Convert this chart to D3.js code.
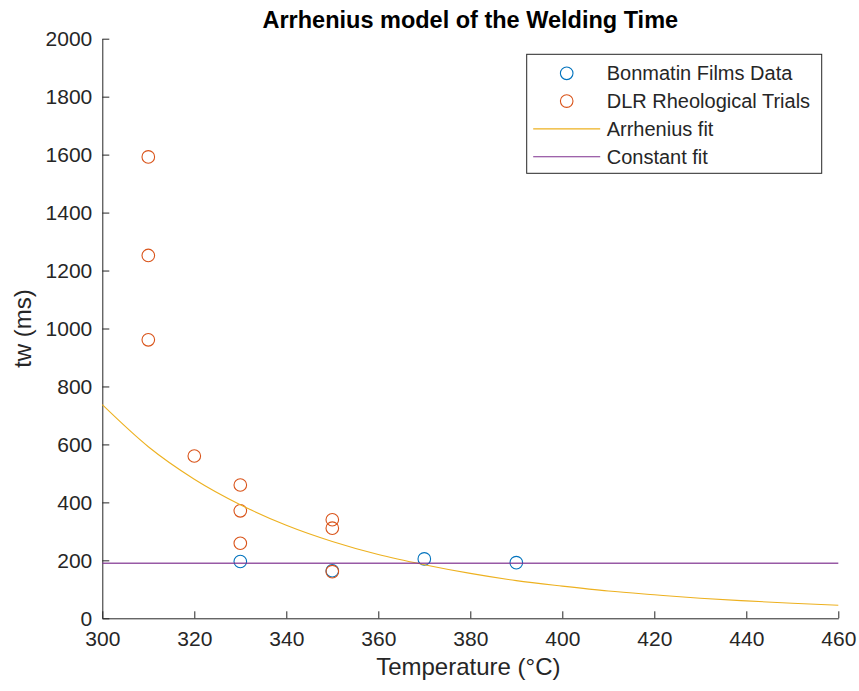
<!DOCTYPE html>
<html>
<head>
<meta charset="utf-8">
<script src="https://cdn.jsdelivr.net/npm/d3@7"></script>
<style>
  body { margin: 0; background: #fff; }
  text { font-family: "Liberation Sans", Arial, sans-serif; }
</style>
</head>
<body>
<div id="root"></div>
<script>
// Data
const bonmatinTemps = [330, 350, 370, 390];
const bonmatinTw = [196, 164, 205, 192];

const dlrTemps = [310, 310, 310, 320, 330, 330, 330, 350, 350, 350];
const dlrTw = [1592, 1252, 961, 560, 460, 371, 259, 340, 311, 161];

const fitTemps = [300, 310, 320, 330, 340, 350, 360, 370, 380, 390, 400, 410, 420, 430, 440, 450, 460];
const arrheniusTw = [737, 592, 480, 392, 321, 265, 220, 185, 155, 130, 111, 94, 81, 69, 60, 52, 45];

const constTemps = [300, 460];
const constTw = [190, 190];

const xTicks = [300, 320, 340, 360, 380, 400, 420, 440, 460];
const yTicks = [0, 200, 400, 600, 800, 1000, 1200, 1400, 1600, 1800, 2000];

const legendLabels = ['Bonmatin Films Data', 'DLR Rheological Trials', 'Arrhenius fit', 'Constant fit'];

const colors = {
  blue: '#0072BD',
  orange: '#D95319',
  yellow: '#EDB120',
  purple: '#7E2F8E',
  axis: '#262626',
};

function createChart() {
  let width = 859;
  let height = 691;
  let margin = { top: 38.7, right: 20.7, bottom: 72.7, left: 102.3 };
  let graphWidth = width - margin.left - margin.right;
  let graphHeight = height - margin.top - margin.bottom;

  const svg = d3.select('#root').append('svg').attr('width', width).attr('height', height);

  let graph = svg.append('g').attr('transform', `translate(${margin.left}, ${margin.top})`);

  let xScale = d3.scaleLinear().domain([300, 460]).range([0, graphWidth]);
  let yScale = d3.scaleLinear().domain([0, 2000]).range([graphHeight, 0]);

  // Axes (ticks point inward, no box)
  let xAxis = d3.axisBottom(xScale).tickValues(xTicks).tickFormat(d3.format('d'))
    .tickSizeInner(-7).tickSizeOuter(0).tickPadding(13);
  let xAxisGroup = graph.append('g').attr('transform', `translate(0, ${graphHeight})`).call(xAxis);

  let yAxis = d3.axisLeft(yScale).tickValues(yTicks).tickFormat(d3.format('d'))
    .tickSizeInner(-7).tickSizeOuter(0).tickPadding(10);
  let yAxisGroup = graph.append('g').call(yAxis);

  [xAxisGroup, yAxisGroup].forEach((g) => {
    g.select('.domain').attr('stroke', colors.axis).attr('stroke-width', 1);
    g.selectAll('.tick line').attr('stroke', colors.axis).attr('stroke-width', 1);
    g.selectAll('.tick text')
      .attr('fill', colors.axis)
      .style('font-size', '21px')
      .style('font-family', '"Liberation Sans", Arial, sans-serif');
  });

  let line = d3
    .line()
    .x((d) => xScale(d[0]))
    .y((d) => yScale(d[1]));

  // Markers
  graph
    .selectAll('circle.bonmatin')
    .data(bonmatinTemps.map((t, i) => [t, bonmatinTw[i]]))
    .enter()
    .append('circle')
    .attr('class', 'bonmatin')
    .attr('cx', (d) => xScale(d[0]))
    .attr('cy', (d) => yScale(d[1]))
    .attr('r', 6.3)
    .attr('fill', 'none')
    .attr('stroke', colors.blue)
    .attr('stroke-width', 1.1);

  graph
    .selectAll('circle.dlr')
    .data(dlrTemps.map((t, i) => [t, dlrTw[i]]))
    .enter()
    .append('circle')
    .attr('class', 'dlr')
    .attr('cx', (d) => xScale(d[0]))
    .attr('cy', (d) => yScale(d[1]))
    .attr('r', 6.3)
    .attr('fill', 'none')
    .attr('stroke', colors.orange)
    .attr('stroke-width', 1.1);

  // Fit lines
  graph
    .append('path')
    .datum(fitTemps.map((t, i) => [t, arrheniusTw[i]]))
    .attr('d', line.curve(d3.curveMonotoneX))
    .attr('fill', 'none')
    .attr('stroke', colors.yellow)
    .attr('stroke-width', 1.1);

  graph
    .append('path')
    .datum(constTemps.map((t, i) => [t, constTw[i]]))
    .attr('d', line.curve(d3.curveLinear))
    .attr('fill', 'none')
    .attr('stroke', colors.purple)
    .attr('stroke-opacity', 0.8)
    .attr('stroke-width', 1.6);

  // Title and labels
  svg
    .append('text')
    .attr('x', margin.left + graphWidth / 2)
    .attr('y', 28.3)
    .attr('text-anchor', 'middle')
    .style('font-size', '23.5px')
    .style('font-weight', 'bold')
    .attr('fill', '#000')
    .text('Arrhenius model of the Welding Time');

  svg
    .append('text')
    .attr('x', margin.left + graphWidth / 2 - 2)
    .attr('y', 675)
    .attr('text-anchor', 'middle')
    .style('font-size', '24px')
    .attr('fill', colors.axis)
    .text('Temperature (°C)');

  svg
    .append('text')
    .attr('transform', `translate(31, ${margin.top + graphHeight / 2}) rotate(-90)`)
    .attr('text-anchor', 'middle')
    .style('font-size', '24px')
    .attr('fill', colors.axis)
    .text('tw (ms)');

  // Legend ///////////////////////////////////////////////////////////////
  let legend = svg.append('g').attr('transform', 'translate(526.7, 54.3)');
  legend
    .append('rect')
    .attr('width', 295)
    .attr('height', 119)
    .attr('fill', '#fff')
    .attr('stroke', colors.axis)
    .attr('stroke-width', 1);

  let legendColors = [colors.blue, colors.orange, colors.yellow, colors.purple];
  let rowY = (i) => 19 + i * 27.8;

  legendLabels.forEach((label, i) => {
    if (i < 2) {
      legend
        .append('circle')
        .attr('cx', 40)
        .attr('cy', rowY(i))
        .attr('r', 6.3)
        .attr('fill', 'none')
        .attr('stroke', legendColors[i])
        .attr('stroke-width', 1.1);
    } else {
      legend
        .append('line')
        .attr('x1', 6.5)
        .attr('x2', 73.5)
        .attr('y1', rowY(i))
        .attr('y2', rowY(i))
        .attr('stroke', legendColors[i])
        .attr('stroke-width', 1.1);
    }
    legend
      .append('text')
      .attr('x', 80)
      .attr('y', rowY(i))
      .attr('dy', '0.35em')
      .style('font-size', '20px')
      .attr('fill', colors.axis)
      .text(label);
  });
}

createChart();
</script>
</body>
</html>
